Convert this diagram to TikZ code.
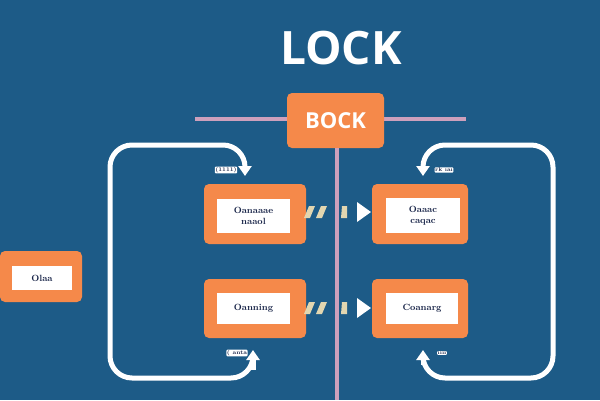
\documentclass[tikz,border=0pt]{standalone}
\usepackage{fontspec}
\newfontfamily\titlefont{Open Sans}
\usetikzlibrary{arrows.meta}
\definecolor{bgblue}{RGB}{29,91,135}
\definecolor{boxorange}{RGB}{245,137,74}
\definecolor{linepink}{RGB}{205,160,188}
\definecolor{txtnavy}{RGB}{24,36,72}
\definecolor{beige}{RGB}{226,214,176}
\tikzset{
  outerbox/.style={fill=boxorange, rounded corners=5pt, inner sep=0pt},
  innerbox/.style={fill=white, inner sep=0pt, align=center, font=\fontsize{9}{10}\selectfont\bfseries, text=txtnavy},
  pinkline/.style={draw=linepink, line width=4.5pt},
  loopline/.style={draw=white, line width=5pt, rounded corners=22pt, -{Triangle[width=13pt,length=10pt]}},
  tinylabel/.style={fill=white, inner sep=0.6pt, font=\fontsize{5.5}{6}\selectfont\bfseries, text=txtnavy, rounded corners=1pt},
  flowtip/.style={fill=white},
  flowdash/.style={fill=beige}
}
\begin{document}
\begin{tikzpicture}[x=1pt,y=-1pt]
\useasboundingbox (0,0) rectangle (600,400);
\fill[bgblue] (0,0) rectangle (600,400);

% title
\node[font=\titlefont\bfseries\fontsize{46}{50}\selectfont, text=white] (title) at (341,48) {LOCK};

% pink lines
\coordinate (hl) at (195,119);
\coordinate (hr) at (466,119);
\coordinate (vb) at (337,400);
\draw[pinkline] (hl) -- (hr);

% BOCK box
\node[outerbox, minimum width=97pt, minimum height=55pt, font=\titlefont\bfseries\fontsize{22}{24}\selectfont, text=white] (bock) at (335.5,120.5) {BOCK};
\draw[pinkline] (bock.south -| vb) -- (vb);

% loops
\coordinate (ltend) at (245,176);
\coordinate (lbend) at (253,350);
\coordinate (rtend) at (423,176);
\coordinate (rbend) at (423,350);
\draw[loopline] (253,368) -- (253,378) -- (110,378) -- (110,145) -- (245,145) -- (ltend);
\draw[white, line width=5pt, -{Triangle[width=13pt,length=10pt]}] (253,370) -- (lbend);
\draw[loopline] (423,360) -- (423,378) -- (553,378) -- (553,145) -- (423,145) -- (rtend);
\draw[white, line width=5pt, -{Triangle[width=13pt,length=10pt]}] (423,365) -- (rbend);

% tiny labels
\node[tinylabel] (l1) at (226,170) {(1111)};
\node[tinylabel] (l2) at (237,353) {( anta};
\node[tinylabel] (l3) at (444,170) {rk ıaı};
\node[tinylabel] (l4) at (442,353) {ıııı};

% boxes
\node[outerbox, minimum width=102pt, minimum height=60pt] (lt) at (255,214) {};
\node[innerbox, minimum width=73pt, minimum height=34pt] (lti) at (253.5,216) {Oanaaae\\[1pt]naaol};
\node[outerbox, minimum width=96pt, minimum height=60pt] (rt) at (420,214) {};
\node[innerbox, minimum width=74pt, minimum height=35pt] (rti) at (423,215.5) {Oaaac\\[1pt]caqac};
\node[outerbox, minimum width=102pt, minimum height=59pt] (lb) at (255,308.5) {};
\node[innerbox, minimum width=73pt, minimum height=31pt] (lbi) at (253.5,308.5) {Oanning};
\node[outerbox, minimum width=96pt, minimum height=59pt] (rb) at (420,308.5) {};
\node[innerbox, minimum width=72pt, minimum height=31pt] (rbi) at (422,308.5) {Coanarg};
\node[outerbox, minimum width=82pt, minimum height=51pt] (sm) at (41,276.5) {};
\node[innerbox, minimum width=60pt, minimum height=24pt] (smi) at (42,278) {Olaa};

% flow marks between columns
\foreach \yy/\nm in {212/t,308/b}{
  \fill[flowdash] (304,\yy+6) -- (309,\yy-6) -- (315,\yy-6) -- (310,\yy+6) -- cycle;
  \fill[flowdash] (316,\yy+6) -- (321,\yy-6) -- (327,\yy-6) -- (322,\yy+6) -- cycle;
  \fill[flowdash] (341,\yy+6) -- (342,\yy-6) -- (347,\yy-6) -- (347,\yy+6) -- cycle;
  \fill[flowtip] (357,\yy-10) -- (371,\yy) -- (357,\yy+10) -- cycle;
}
\end{tikzpicture}
\end{document}
